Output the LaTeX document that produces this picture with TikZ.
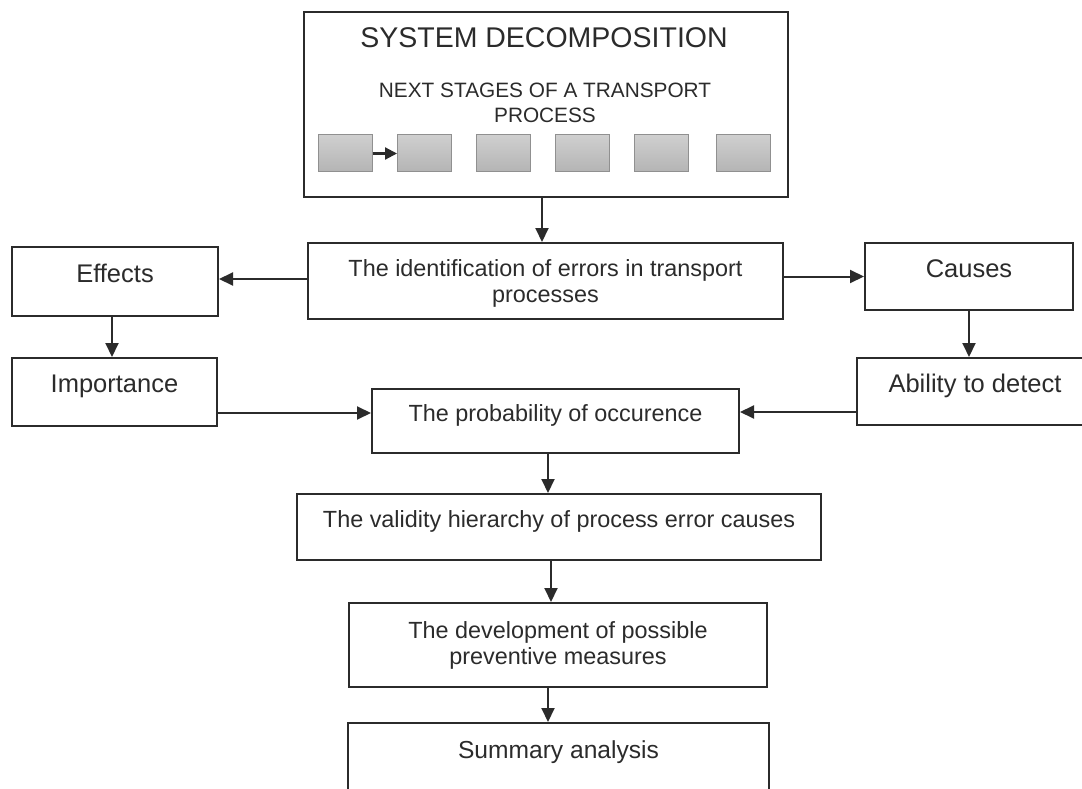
\documentclass[tikz,border=0pt]{standalone}
\usepackage{fontspec}
\setmainfont{Liberation Sans}
\usetikzlibrary{arrows.meta}
\definecolor{ink}{HTML}{2B2B2B}
\definecolor{stagetop}{HTML}{CFCFCF}
\definecolor{stagebot}{HTML}{B4B4B4}

\begin{document}
\begin{tikzpicture}[x=1pt,y=-1pt,
	blk/.style={draw=ink, line width=2pt, text=ink, align=center, inner sep=0pt, text depth=16pt},
	mid/.style={font=\fontsize{23.4}{26}\selectfont},
	side/.style={font=\fontsize{25.5}{28}\selectfont},
	stage/.style={draw=stagebot!80!black, line width=1pt, top color=stagetop, bottom color=stagebot, minimum width=54pt, minimum height=37pt, inner sep=0pt},
	arr/.style={draw=ink, line width=2pt, -{Triangle[length=14pt,width=13pt]}}]
		\useasboundingbox (0,0) rectangle (1082,789);
		\clip (0,0) rectangle (1082,789);
		% decomposition of the system
		\node[blk, minimum width=484pt, minimum height=185pt] (sysbox) at (546,104.5) {};
		\node[text=ink, font=\fontsize{28.5}{32}\selectfont] (title) at (544,38) {SYSTEM DECOMPOSITION};
		\node[text=ink, align=center, font=\fontsize{20.8}{25}\selectfont] (stages) at (545,102.5) {NEXT STAGES OF A TRANSPORT\\PROCESS};
		\foreach \x [count=\i] in {345,424.5,503,582,661,743}
			\node[stage] (stage\i) at (\x,153.5) {};
		\draw[draw=ink, line width=2.2pt, -{Triangle[length=12pt,width=12pt]}] (stage1) -- (stage2);
		% errors, effects and causes
		\node[blk, mid, text depth=0pt, minimum width=475pt, minimum height=76pt] (ident) at (545.5,281) {The identification of errors in transport\\processes};
		\node[blk, side, minimum width=206pt, minimum height=69pt] (effects) at (115,281.5) {Effects};
		\node[blk, side, minimum width=205pt, minimum height=68pt] (importance) at (114.5,392) {Importance};
		\node[blk, side, minimum width=208pt, minimum height=67pt] (causes) at (969,276.5) {Causes};
		\node[blk, side, minimum width=236pt, minimum height=67pt] (ability) at (975,391.5) {Ability to detect};
		% evaluation
		\node[blk, mid, minimum width=367pt, minimum height=64pt] (prob) at (555.5,421) {The probability of occurence};
		\node[blk, mid, minimum width=524pt, minimum height=66pt] (valid) at (559,527) {The validity hierarchy of process error causes};
		\node[blk, mid, text depth=4pt, minimum width=418pt, minimum height=84pt] (dev) at (558,645) {The development of possible\\preventive measures};
		\node[blk, text depth=26pt, font=\fontsize{24.6}{28}\selectfont, minimum width=421pt, minimum height=80pt] (summary) at (558.5,763) {Summary analysis};
		% connectors
		\draw[arr] ([xshift=-4pt]sysbox.south) -- ([xshift=-4pt]sysbox.south |- ident.north);
		\draw[arr] ([yshift=2.5pt]ident.west |- effects.east) -- ([yshift=2.5pt]effects.east);
		\draw[arr] (ident.east |- causes.west) -- (causes.west);
		\draw[arr] ([xshift=-3pt]effects.south) -- ([xshift=-3pt]effects.south |- importance.north);
		\draw[arr] (causes.south) -- (causes.south |- ability.north);
		\draw[arr] ([yshift=8pt]importance.east |- prob.west) -- ([yshift=8pt]prob.west);
		\draw[arr] ([yshift=9pt]ability.west |- prob.east) -- ([yshift=9pt]prob.east);
		\draw[arr] ([xshift=-7.5pt]prob.south) -- ([xshift=-7.5pt]prob.south |- valid.north);
		\draw[arr] ([xshift=-8pt]valid.south) -- ([xshift=-8pt]valid.south |- dev.north);
		\draw[arr] ([xshift=-10pt]dev.south) -- ([xshift=-10pt]dev.south |- summary.north);
\end{tikzpicture}
\end{document}
